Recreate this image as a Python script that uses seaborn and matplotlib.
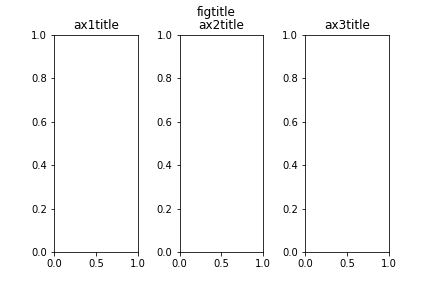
import matplotlib
matplotlib.use("Agg")
import matplotlib.pyplot as plt
import seaborn as sns

titles = ["ax1title", "ax2title", "ax3title"]
suptitle = "figtitle"

sns.set_style("white")
plt.rcdefaults()

fig, axes = plt.subplots(1, 3, figsize=(6, 4), dpi=72)
for ax, t in zip(axes, titles):
    ax.set_title(t)
fig.suptitle(suptitle)
fig.subplots_adjust(left=0.125, right=0.9, bottom=0.125, top=0.88, wspace=0.5)
fig.savefig("out.png", dpi=72)
